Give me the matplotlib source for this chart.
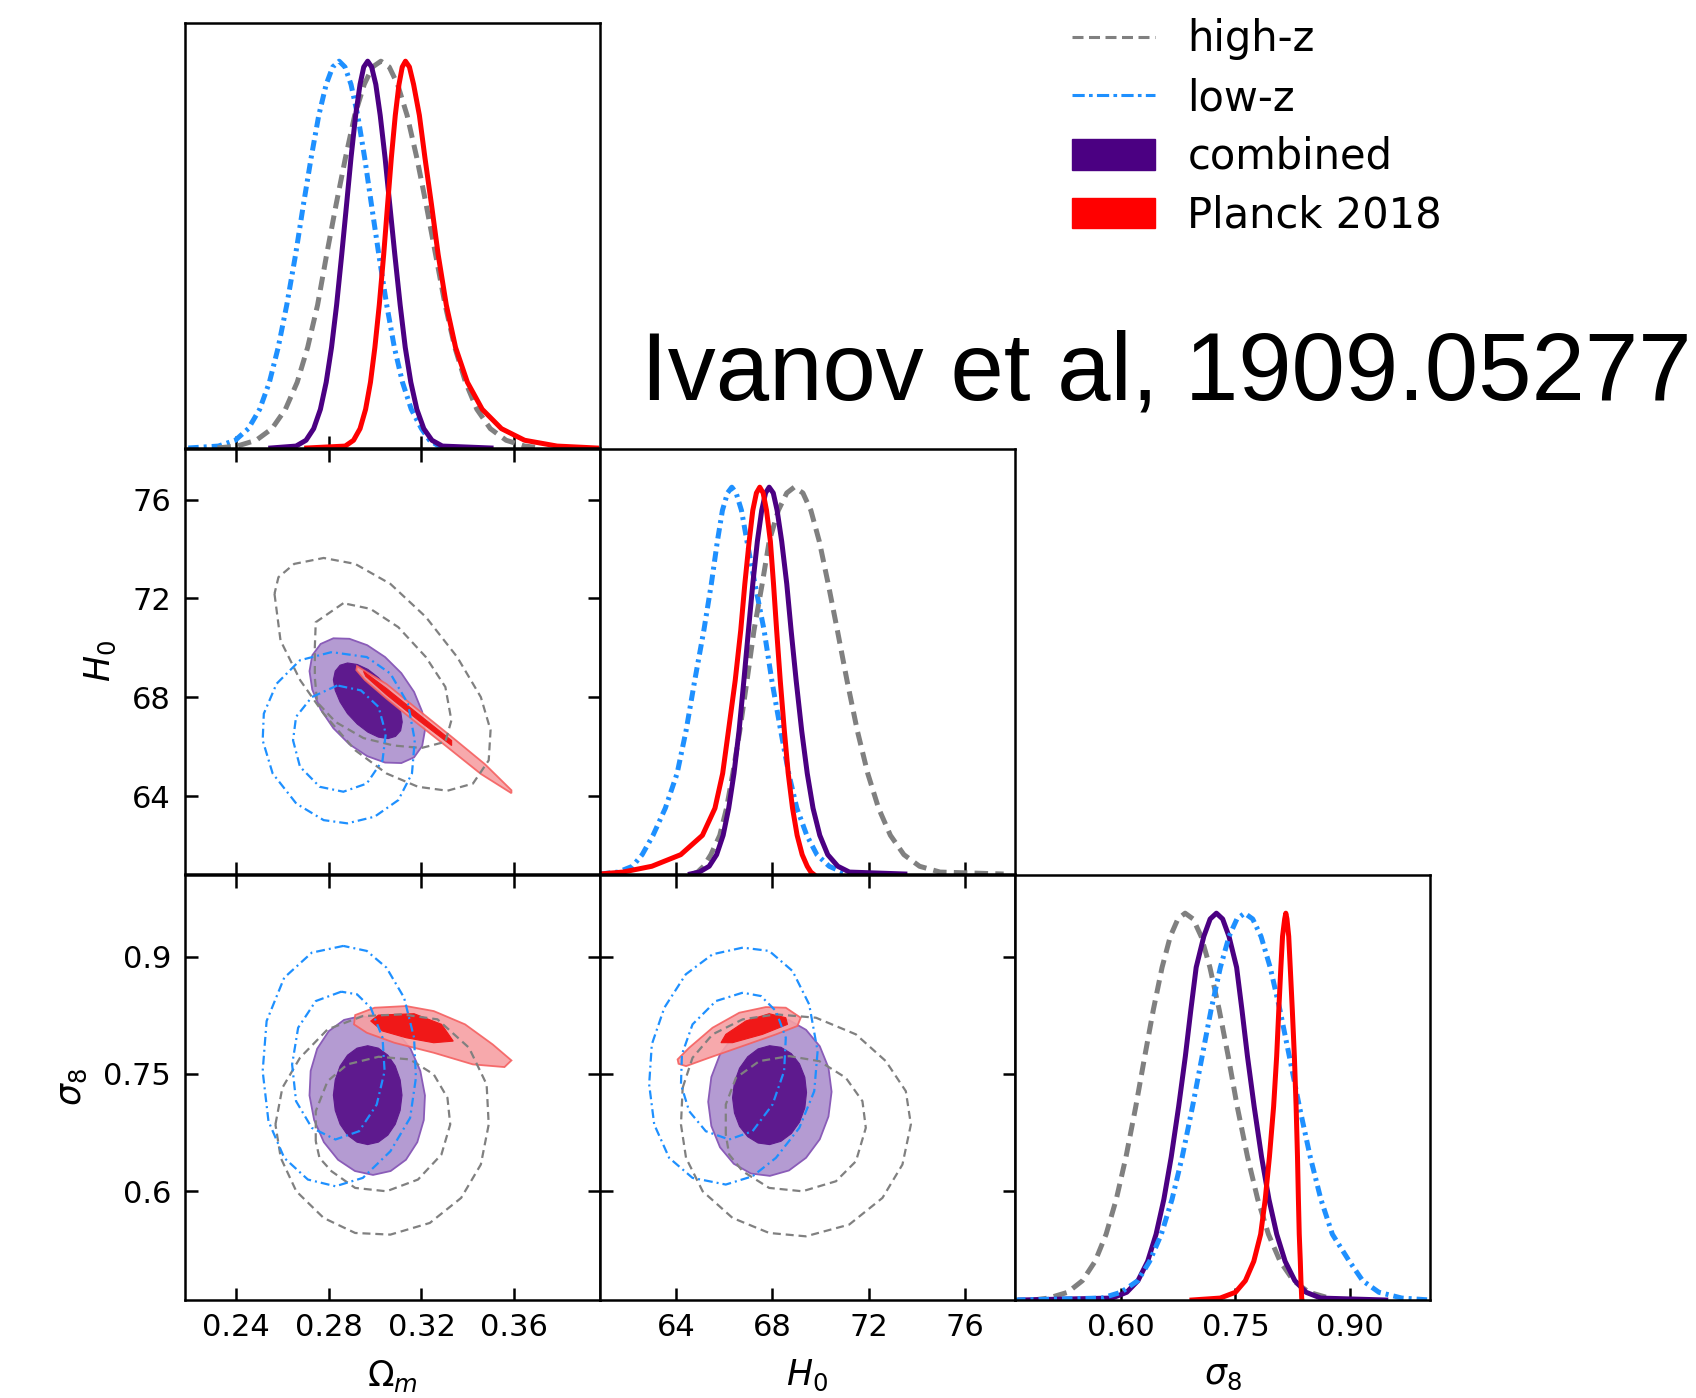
import matplotlib
matplotlib.use("Agg")
import matplotlib.pyplot as plt
from matplotlib.patches import Polygon, Patch
from matplotlib.lines import Line2D

# colours
GRAY = '#808080'
BLUE = '#1e90ff'
INDIGO = '#4b0082'
RED = '#ff0000'

# axis ranges and ticks
om_lim = (0.218, 0.397)
h0_lim = (60.85, 78.07)
s8_lim = (0.461, 1.005)
om_ticks = [0.24, 0.28, 0.32, 0.36]
om_ticklabels = ['0.24', '0.28', '0.32', '0.36']
h0_ticks = [64, 68, 72, 76]
h0_ticklabels = ['64', '68', '72', '76']
s8_xticks = [0.60, 0.75, 0.90]
s8_xticklabels = ['0.60', '0.75', '0.90']
s8_yticks = [0.6, 0.75, 0.9]
s8_yticklabels = ['0.6', '0.75', '0.9']

# ---- 1D marginals ----
# heights (peak = 1) at which the left / right flanks were read
levels = [0, 0.005, 0.02, 0.05, 0.1, 0.17, 0.26, 0.37, 0.5, 0.63, 0.75, 0.86, 0.94, 0.985]

om_blue_peak = 0.2845
om_blue_left = [0.2194, 0.2324, 0.2397, 0.2453, 0.2502, 0.2544, 0.2582, 0.2619, 0.2657, 0.2691, 0.2724, 0.2757, 0.2789, 0.2817]
om_blue_right = [0.3310, 0.3275, 0.3235, 0.3200, 0.3156, 0.3118, 0.3083, 0.3050, 0.3016, 0.2984, 0.2955, 0.2925, 0.2896, 0.2870]
om_gray_peak = 0.3025
om_gray_left = [0.2320, 0.2405, 0.2487, 0.2555, 0.2613, 0.2664, 0.2709, 0.2752, 0.2791, 0.2832, 0.2872, 0.2912, 0.2953, 0.2989]
om_gray_right = [0.3720, 0.3645, 0.3565, 0.3497, 0.3439, 0.3390, 0.3344, 0.3302, 0.3261, 0.3220, 0.3180, 0.3138, 0.3097, 0.3061]
om_comb_peak = 0.2968
om_comb_left = [0.2550, 0.2659, 0.2702, 0.2735, 0.2764, 0.2789, 0.2812, 0.2834, 0.2856, 0.2877, 0.2896, 0.2916, 0.2935, 0.2951]
om_comb_right = [0.3500, 0.3290, 0.3245, 0.3210, 0.3180, 0.3154, 0.3130, 0.3108, 0.3085, 0.3063, 0.3043, 0.3022, 0.3003, 0.2985]
om_red_peak = 0.3131
om_red_left = [0.2705, 0.2871, 0.2907, 0.2935, 0.2959, 0.2980, 0.2999, 0.3018, 0.3037, 0.3054, 0.3070, 0.3087, 0.3103, 0.3117]
om_red_right = [0.3955, 0.3785, 0.3645, 0.3545, 0.3462, 0.3398, 0.3347, 0.3307, 0.3272, 0.3243, 0.3215, 0.3191, 0.3166, 0.3148]

h0_blue_peak = 66.32
h0_blue_left = [60.85, 61.6, 62.2, 62.6, 63.05, 63.56, 64.05, 64.42, 64.78, 65.16, 65.47, 65.72, 65.93, 66.14]
h0_blue_right = [71.4, 70.9, 70.36, 69.85, 69.43, 69.02, 68.68, 68.35, 67.98, 67.66, 67.28, 66.95, 66.72, 66.5]
h0_gray_peak = 68.91
h0_gray_left = [64.7, 64.9, 65.15, 65.45, 65.82, 66.1, 66.36, 66.65, 66.95, 67.24, 67.58, 67.87, 68.25, 68.6]
h0_gray_right = [77.6, 74.96, 74.11, 73.46, 72.9, 72.41, 71.96, 71.53, 71.1, 70.7, 70.32, 69.95, 69.6, 69.27]
h0_comb_peak = 67.87
h0_comb_left = [64.6, 64.97, 65.38, 65.69, 65.96, 66.19, 66.41, 66.62, 66.82, 67.01, 67.19, 67.38, 67.56, 67.72]
h0_comb_right = [73.5, 71.2, 70.72, 70.3, 69.97, 69.69, 69.45, 69.22, 68.99, 68.78, 68.6, 68.39, 68.2, 68.04]
h0_red_peak = 67.48
h0_red_left = [60.85, 61.8, 63.0, 64.2, 65.1, 65.62, 65.94, 66.18, 66.46, 66.69, 66.86, 67.04, 67.19, 67.34]
h0_red_right = [69.7, 69.6, 69.45, 69.24, 69.03, 68.84, 68.66, 68.5, 68.33, 68.18, 68.05, 67.92, 67.76, 67.62]

s8_gray_peak = 0.684
s8_gray_left = [0.485, 0.505, 0.5302, 0.5494, 0.566, 0.5804, 0.5937, 0.6065, 0.6193, 0.6311, 0.6423, 0.6538, 0.6646, 0.6745]
s8_gray_right = [0.890, 0.8728, 0.8462, 0.826, 0.8085, 0.7932, 0.7792, 0.7658, 0.7523, 0.7405, 0.7287, 0.7165, 0.705, 0.6945]
s8_comb_peak = 0.725
s8_comb_left = [0.468, 0.5883, 0.6075, 0.6222, 0.6349, 0.6459, 0.6561, 0.6658, 0.6755, 0.6843, 0.6915, 0.6985, 0.7085, 0.7168]
s8_comb_right = [0.947, 0.8617, 0.8425, 0.8278, 0.8151, 0.8041, 0.7939, 0.7842, 0.7745, 0.7657, 0.7585, 0.7515, 0.7415, 0.7332]
s8_blue_peak = 0.762
s8_blue_left = [0.461, 0.575, 0.600, 0.622, 0.6375, 0.6528, 0.6668, 0.6802, 0.6937, 0.7063, 0.718, 0.7302, 0.7416, 0.7519]
s8_blue_right = [1.005, 0.968, 0.938, 0.9167, 0.8993, 0.877, 0.862, 0.848, 0.8338, 0.8206, 0.8083, 0.7955, 0.7835, 0.7726]
s8_red_peak = 0.816
s8_red_left = [0.693, 0.730, 0.750, 0.763, 0.774, 0.783, 0.789, 0.7945, 0.800, 0.804, 0.8068, 0.8095, 0.8117, 0.8145]
s8_red_right = [0.8372, 0.8368, 0.8365, 0.8358, 0.8350, 0.8336, 0.8325, 0.8313, 0.8295, 0.8272, 0.8245, 0.8218, 0.8198, 0.8175]

# ---- 2D contours (95% / 68%) ----
# Omega_m - H0
omh0_comb_95 = [(0.3215, 66.67), (0.3203, 67.42), (0.3168, 68.22), (0.3113, 68.98), (0.3043, 69.63), (0.2966, 70.11),
                (0.2889, 70.37), (0.2820, 70.39), (0.2765, 70.16), (0.2729, 69.70), (0.2717, 69.06), (0.2729, 68.31),
                (0.2765, 67.51), (0.2820, 66.75), (0.2889, 66.10), (0.2966, 65.62), (0.3043, 65.36), (0.3113, 65.34),
                (0.3168, 65.57), (0.3203, 66.03)]
omh0_comb_68 = [(0.3117, 67.00), (0.3110, 67.44), (0.3088, 67.91), (0.3056, 68.38), (0.3014, 68.80), (0.2969, 69.13),
                (0.2923, 69.33), (0.2881, 69.39), (0.2849, 69.30), (0.2828, 69.06), (0.2820, 68.71), (0.2828, 68.28),
                (0.2849, 67.81), (0.2881, 67.34), (0.2923, 66.92), (0.2969, 66.59), (0.3014, 66.39), (0.3056, 66.33),
                (0.3088, 66.42), (0.3110, 66.65)]
omh0_red_95 = [(0.2922, 69.26), (0.3049, 68.54), (0.3185, 67.5), (0.3337, 66.35), (0.3473, 65.3), (0.3588, 64.24),
               (0.3588, 64.12), (0.3456, 64.9), (0.3303, 66.05), (0.3168, 67.05), (0.3049, 67.95), (0.2956, 68.7),
               (0.2919, 69.1)]
omh0_red_68 = [(0.2950, 69.05), (0.3050, 68.35), (0.3180, 67.37), (0.3330, 66.25), (0.3330, 66.05), (0.3180, 67.12),
               (0.3050, 68.1), (0.2960, 68.85)]
omh0_gray_95 = [(0.2566, 72.19), (0.2592, 70.3), (0.2677, 68.69), (0.2778, 67.34), (0.2914, 65.86), (0.3049, 64.92),
                (0.3185, 64.38), (0.3312, 64.22), (0.3422, 64.51), (0.3490, 65.45), (0.3498, 66.67), (0.3456, 68.01),
                (0.3354, 69.63), (0.3219, 71.25), (0.3066, 72.59), (0.2914, 73.40), (0.2778, 73.64), (0.2651, 73.40),
                (0.2583, 72.86)]
omh0_gray_68 = [(0.2863, 71.81), (0.2744, 71.04), (0.2740, 70.03), (0.2740, 68.8), (0.2750, 67.8), (0.2830, 67.0),
                (0.2950, 66.35), (0.3080, 66.05), (0.3200, 65.95), (0.3303, 66.2), (0.3329, 67.07), (0.3303, 68.42),
                (0.3219, 69.63), (0.3100, 70.84), (0.2980, 71.58)]
omh0_blue_95 = [(0.2812, 69.83), (0.2676, 69.5), (0.2575, 68.55), (0.2520, 67.34), (0.2515, 66.26), (0.2558, 64.92),
                (0.2660, 63.70), (0.2778, 63.03), (0.2880, 62.90), (0.2998, 63.17), (0.3100, 63.84), (0.3159, 64.92),
                (0.3171, 66.26), (0.3142, 67.74), (0.3066, 68.96), (0.2964, 69.63)]
omh0_blue_68 = [(0.2837, 68.48), (0.2727, 68.01), (0.2659, 67.21), (0.2646, 66.26), (0.2676, 65.19), (0.2761, 64.38),
                (0.2863, 64.18), (0.2964, 64.51), (0.3032, 65.45), (0.3046, 66.53), (0.3015, 67.61), (0.2939, 68.28)]

# Omega_m - sigma8
oms8_comb_95 = [(0.3215, 0.7225), (0.3195, 0.7539), (0.3153, 0.7822), (0.3092, 0.8047), (0.3019, 0.8191),
                (0.2941, 0.8241), (0.2866, 0.8191), (0.2800, 0.8047), (0.2750, 0.7822), (0.2722, 0.7539),
                (0.2717, 0.7225), (0.2737, 0.6911), (0.2779, 0.6628), (0.2840, 0.6403), (0.2913, 0.6259),
                (0.2991, 0.6209), (0.3067, 0.6259), (0.3133, 0.6403), (0.3182, 0.6628), (0.3210, 0.6911)]
oms8_comb_68 = [(0.3116, 0.7229), (0.3108, 0.7424), (0.3087, 0.7601), (0.3055, 0.7740), (0.3014, 0.7830),
                (0.2968, 0.7861), (0.2922, 0.7830), (0.2881, 0.7740), (0.2849, 0.7601), (0.2828, 0.7424),
                (0.2820, 0.7229), (0.2828, 0.7034), (0.2849, 0.6857), (0.2881, 0.6718), (0.2922, 0.6628),
                (0.2968, 0.6597), (0.3014, 0.6628), (0.3055, 0.6718), (0.3087, 0.6857), (0.3108, 0.7034)]
oms8_red_95 = [(0.2914, 0.8253), (0.2998, 0.8347), (0.3134, 0.8368), (0.3253, 0.8304), (0.3388, 0.8134),
               (0.3507, 0.7878), (0.3588, 0.7673), (0.3558, 0.7588), (0.3422, 0.7622), (0.3253, 0.7771),
               (0.3083, 0.7899), (0.2964, 0.8027), (0.2909, 0.8134)]
oms8_red_68 = [(0.2981, 0.8177), (0.3015, 0.8253), (0.3168, 0.8270), (0.3287, 0.8134), (0.3337, 0.7920),
               (0.3253, 0.7899), (0.3134, 0.7963), (0.3032, 0.8049)]
oms8_gray_95 = [(0.2570, 0.6854), (0.2600, 0.7323), (0.2676, 0.7707), (0.2795, 0.8070), (0.2947, 0.8240),
                (0.3117, 0.8262), (0.3269, 0.8198), (0.3405, 0.7835), (0.3481, 0.7366), (0.3490, 0.6854),
                (0.3456, 0.6342), (0.3371, 0.5915), (0.3236, 0.5595), (0.3066, 0.5446), (0.2914, 0.5467),
                (0.2778, 0.5659), (0.2660, 0.6000), (0.2593, 0.6427)]
oms8_gray_68 = [(0.2744, 0.6640), (0.2744, 0.7024), (0.2795, 0.7408), (0.2880, 0.7622), (0.3015, 0.7720),
                (0.3150, 0.7686), (0.3253, 0.7494), (0.3312, 0.7195), (0.3324, 0.6854), (0.3286, 0.6470),
                (0.3185, 0.6150), (0.3049, 0.6000), (0.2914, 0.6043), (0.2812, 0.6256), (0.2760, 0.6427)]
oms8_blue_95 = [(0.2863, 0.9137), (0.2727, 0.9051), (0.2608, 0.8731), (0.2532, 0.8176), (0.2515, 0.7536),
                (0.2540, 0.6896), (0.2608, 0.6427), (0.2710, 0.6150), (0.2829, 0.6064), (0.2947, 0.6171),
                (0.3066, 0.6512), (0.3151, 0.6939), (0.3176, 0.7451), (0.3168, 0.7963), (0.3125, 0.8475),
                (0.3049, 0.8859), (0.2964, 0.9073)]
oms8_blue_68 = [(0.2854, 0.8552), (0.2744, 0.8432), (0.2668, 0.8091), (0.2642, 0.7622), (0.2659, 0.7152),
                (0.2727, 0.6811), (0.2829, 0.6662), (0.2931, 0.6768), (0.3007, 0.7109), (0.3041, 0.7536),
                (0.3032, 0.7963), (0.2981, 0.8347), (0.2922, 0.8518)]

# H0 - sigma8
h0s8_comb_95 = [(70.46, 0.7272), (70.33, 0.7581), (69.97, 0.7854), (69.40, 0.8064), (68.69, 0.8189), (67.90, 0.8219),
                (67.11, 0.8150), (66.40, 0.7988), (65.83, 0.7751), (65.47, 0.7460), (65.34, 0.7144), (65.47, 0.6835),
                (65.83, 0.6562), (66.40, 0.6352), (67.11, 0.6227), (67.90, 0.6197), (68.69, 0.6266), (69.40, 0.6428),
                (69.97, 0.6665), (70.33, 0.6956)]
h0s8_comb_68 = [(69.42, 0.7263), (69.35, 0.7457), (69.13, 0.7628), (68.79, 0.7760), (68.36, 0.7841), (67.89, 0.7861),
                (67.41, 0.7820), (66.98, 0.7720), (66.64, 0.7573), (66.43, 0.7392), (66.35, 0.7195), (66.43, 0.7001),
                (66.64, 0.6830), (66.98, 0.6698), (67.41, 0.6617), (67.89, 0.6597), (68.36, 0.6639), (68.79, 0.6738),
                (69.13, 0.6885), (69.35, 0.7066)]
h0s8_red_95 = [(64.11, 0.7630), (64.07, 0.7686), (64.55, 0.7835), (65.52, 0.8091), (66.63, 0.8283), (67.73, 0.8355),
               (68.56, 0.8347), (69.18, 0.8219), (69.04, 0.8113), (68.15, 0.8006), (66.77, 0.7857), (65.38, 0.7707),
               (64.42, 0.7600)]
h0s8_red_68 = [(65.87, 0.7900), (66.07, 0.8006), (66.90, 0.8177), (67.87, 0.8270), (68.56, 0.8219), (68.63, 0.8134),
               (67.59, 0.8006), (66.35, 0.7900)]
h0s8_gray_95 = [(64.28, 0.7323), (64.69, 0.7707), (65.52, 0.8006), (66.77, 0.8198), (68.15, 0.8262), (69.81, 0.8219),
                (71.47, 0.8006), (72.71, 0.7664), (73.54, 0.7280), (73.75, 0.6854), (73.40, 0.6342), (72.57, 0.5915),
                (71.19, 0.5574), (69.39, 0.5424), (67.87, 0.5467), (66.35, 0.5659), (65.11, 0.6000), (64.42, 0.6427),
                (64.21, 0.6854)]
h0s8_gray_68 = [(66.07, 0.6726), (66.07, 0.7109), (66.49, 0.7450), (67.46, 0.7664), (68.70, 0.7728), (69.95, 0.7664),
                (71.05, 0.7451), (71.74, 0.7152), (71.88, 0.6811), (71.47, 0.6384), (70.64, 0.6128), (69.25, 0.6000),
                (67.87, 0.6043), (66.77, 0.6256), (66.21, 0.6470)]
h0s8_blue_95 = [(66.77, 0.9115), (65.52, 0.9030), (64.41, 0.8774), (63.52, 0.8347), (63.00, 0.7878), (62.89, 0.7366),
                (63.10, 0.6854), (63.72, 0.6427), (64.69, 0.6171), (66.07, 0.6086), (67.18, 0.6192), (68.15, 0.6427),
                (69.12, 0.6811), (69.74, 0.7280), (69.88, 0.7792), (69.53, 0.8389), (68.84, 0.8816), (67.87, 0.9073)]
h0s8_blue_68 = [(66.77, 0.8539), (65.66, 0.8432), (64.69, 0.8134), (64.25, 0.7750), (64.21, 0.7366), (64.55, 0.7024),
                (65.24, 0.6768), (66.21, 0.6662), (67.18, 0.6768), (68.01, 0.7109), (68.49, 0.7536), (68.56, 0.7963),
                (68.15, 0.8304), (67.53, 0.8496)]

# ---- figure ----
fig = plt.figure(figsize=(16.96, 13.98), dpi=100)
cols = [0.10908, 0.35377, 0.59847]
rows = [0.67954, 0.37482, 0.07010]
W, H = 0.24469, 0.30436

LW1 = 3.6
DASH1 = (0, (2.7, 1.45))
DOT1 = (0, (2.1, 1.0, 0.6, 1.0))
LW2 = 1.6
DASH2 = (0, (3.6, 2.2))
DOT2 = (0, (4.0, 1.8, 0.9, 1.8))
TICKSIZE = 22


def style(ax, twod):
    for s in ax.spines.values():
        s.set_linewidth(1.8)
    if twod:
        ax.tick_params(direction='in', length=9, width=1.8, labelsize=TICKSIZE,
                       top=True, right=True)
    else:
        ax.tick_params(direction='in', length=9, width=1.8, labelsize=TICKSIZE,
                       top=False, right=False, left=False, labelleft=False)
    ax.tick_params(axis='x', pad=9)
    ax.tick_params(axis='y', pad=10)


def marg(ax, lim, ticks, ticklabels, curves):
    for peak, left, right, c, ls in curves:
        x = left + [peak] + right[::-1]
        y = levels + [1.0] + levels[::-1]
        ax.plot(x, y, color=c, lw=LW1, linestyle=ls, solid_joinstyle='round')
    ax.set_xlim(lim)
    ax.set_ylim(0, 1.1)
    ax.set_xticks(ticks)
    ax.set_xticklabels(ticklabels)
    ax.set_yticks([])
    style(ax, False)


def cont(ax, comb, red, gray, blue):
    ax.add_patch(Polygon(comb[0], closed=True, facecolor='#b49bd2', edgecolor='#8a5cb8', lw=1.3, zorder=2))
    ax.add_patch(Polygon(comb[1], closed=True, facecolor='#5e1a8e', edgecolor='#5e1a8e', lw=0.8, zorder=2.1))
    ax.add_patch(Polygon(red[0], closed=True, facecolor='#f7a0a3', edgecolor='#f56060', lw=1.3, alpha=0.9, zorder=2.2))
    ax.add_patch(Polygon(red[1], closed=True, facecolor='#f01818', edgecolor='#f01818', lw=0.8, zorder=2.3))
    for pts in gray:
        ax.add_patch(Polygon(pts, closed=True, fill=False, edgecolor=GRAY, lw=LW2, linestyle=DASH2, zorder=3))
    for pts in blue:
        ax.add_patch(Polygon(pts, closed=True, fill=False, edgecolor=BLUE, lw=LW2, linestyle=DOT2, zorder=3.1))
    style(ax, True)


# row 1: Omega_m marginal
ax11 = fig.add_axes([cols[0], rows[0], W, H])
marg(ax11, om_lim, om_ticks, om_ticklabels,
     [(om_blue_peak, om_blue_left, om_blue_right, BLUE, DOT1),
      (om_gray_peak, om_gray_left, om_gray_right, GRAY, DASH1),
      (om_comb_peak, om_comb_left, om_comb_right, INDIGO, '-'),
      (om_red_peak, om_red_left, om_red_right, RED, '-')])
ax11.tick_params(labelbottom=False)

# row 2
ax21 = fig.add_axes([cols[0], rows[1], W, H])
cont(ax21, (omh0_comb_95, omh0_comb_68), (omh0_red_95, omh0_red_68),
     (omh0_gray_95, omh0_gray_68), (omh0_blue_95, omh0_blue_68))
ax21.set_xlim(om_lim)
ax21.set_ylim(h0_lim)
ax21.set_xticks(om_ticks)
ax21.set_yticks(h0_ticks)
ax21.set_yticklabels(h0_ticklabels)
ax21.tick_params(labelbottom=False)
ax21.set_ylabel(r'$H_0$', fontsize=25, labelpad=10)

ax22 = fig.add_axes([cols[1], rows[1], W, H])
marg(ax22, h0_lim, h0_ticks, h0_ticklabels,
     [(h0_blue_peak, h0_blue_left, h0_blue_right, BLUE, DOT1),
      (h0_gray_peak, h0_gray_left, h0_gray_right, GRAY, DASH1),
      (h0_comb_peak, h0_comb_left, h0_comb_right, INDIGO, '-'),
      (h0_red_peak, h0_red_left, h0_red_right, RED, '-')])
ax22.tick_params(labelbottom=False)

# row 3
ax31 = fig.add_axes([cols[0], rows[2], W, H])
cont(ax31, (oms8_comb_95, oms8_comb_68), (oms8_red_95, oms8_red_68),
     (oms8_gray_95, oms8_gray_68), (oms8_blue_95, oms8_blue_68))
ax31.set_xlim(om_lim)
ax31.set_ylim(s8_lim)
ax31.set_xticks(om_ticks)
ax31.set_xticklabels(om_ticklabels)
ax31.set_yticks(s8_yticks)
ax31.set_yticklabels(s8_yticklabels)
ax31.set_xlabel(r'$\Omega_m$', fontsize=25, labelpad=12)
ax31.set_ylabel(r'$\sigma_8$', fontsize=25, labelpad=10)

ax32 = fig.add_axes([cols[1], rows[2], W, H])
cont(ax32, (h0s8_comb_95, h0s8_comb_68), (h0s8_red_95, h0s8_red_68),
     (h0s8_gray_95, h0s8_gray_68), (h0s8_blue_95, h0s8_blue_68))
ax32.set_xlim(h0_lim)
ax32.set_ylim(s8_lim)
ax32.set_xticks(h0_ticks)
ax32.set_xticklabels(h0_ticklabels)
ax32.set_yticks(s8_yticks)
ax32.tick_params(labelleft=False)
ax32.set_xlabel(r'$H_0$', fontsize=25, labelpad=12)

ax33 = fig.add_axes([cols[2], rows[2], W, H])
marg(ax33, s8_lim, s8_xticks, s8_xticklabels,
     [(s8_gray_peak, s8_gray_left, s8_gray_right, GRAY, DASH1),
      (s8_comb_peak, s8_comb_left, s8_comb_right, INDIGO, '-'),
      (s8_blue_peak, s8_blue_left, s8_blue_right, BLUE, DOT1),
      (s8_red_peak, s8_red_left, s8_red_right, RED, '-')])
ax33.set_xlabel(r'$\sigma_8$', fontsize=25, labelpad=12)

# legend
handles = [Line2D([], [], color=GRAY, lw=2.2, linestyle=(0, (3.6, 1.8))),
           Line2D([], [], color=BLUE, lw=2.2, linestyle=(0, (4.0, 1.4, 1.2, 1.4))),
           Patch(facecolor=INDIGO, edgecolor=INDIGO),
           Patch(facecolor=RED, edgecolor=RED)]
labels = ['high-z', 'low-z', 'combined', 'Planck 2018']
fig.legend(handles, labels, loc='upper left', bbox_to_anchor=(0.6321, 0.9868),
           frameon=False, fontsize=30, handlelength=2.0, handleheight=0.75,
           handletextpad=0.77, labelspacing=0.40, borderpad=0, borderaxespad=0)

fig.text(641 / 1696, 1 - 399 / 1398, 'Ivanov et al, 1909.05277', fontsize=69,
         family='Liberation Sans', ha='left', va='baseline')

fig.savefig('out.png', dpi=100)
